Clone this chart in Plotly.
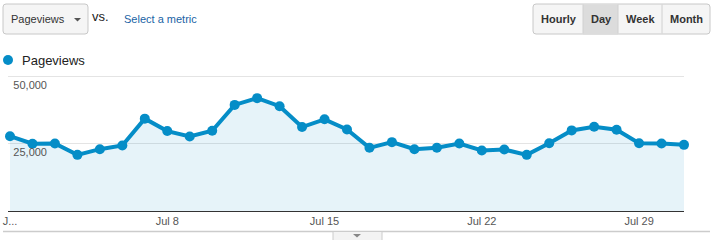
import plotly.graph_objects as go

# ---- data ----
dates = ["2013-07-%02d" % d for d in range(1, 32)]
pageviews = [27700, 24900, 25000, 20800, 22900, 24250, 34200, 29600, 27600, 29700,
             39300, 41800, 38800, 31100, 33950, 30200, 23400, 25500, 22900, 23400,
             25000, 22400, 22750, 20800, 25100, 29850, 31200, 30100, 25100, 25000, 24500]
tick_dates = ["2013-07-01", "2013-07-08", "2013-07-15", "2013-07-22", "2013-07-29"]
tick_text = ["J...", "Jul 8", "Jul 15", "Jul 22", "Jul 29"]
y_ticks = [25000, 50000]
y_tick_text = ["25,000", "50,000"]
buttons = ["Hourly", "Day", "Week", "Month"]
button_centers = [558.5, 601, 640, 686]

W, H = 718, 240
FONT = "Liberation Sans, Arial, sans-serif"
BLUE = "#058dc7"

# plot geometry (pixels): first/last day at x=10/684, 0 at y=211, 50,000 at y=76
X0, X1 = 10, 684
Y0, Y50 = 211, 76
PAD_L, PAD_T = 2, 3           # small padding so edge ticks/gridlines are kept
day_px = (X1 - X0) / 30.0
pad_hours = PAD_L / day_px * 24
pad_h = int(pad_hours)
pad_m = int(round((pad_hours - pad_h) * 60))
x_start = "2013-06-30 %02d:%02d" % (23 - pad_h, 60 - pad_m if pad_m else 0)
y_top = 50000 * (Y0 - (Y50 - PAD_T)) / (Y0 - Y50)


def px(x):
    return x / W


def py(y):
    return 1 - y / H


def path(points, close=True):
    s = "M " + " L ".join("%.5f,%.5f" % (px(a), py(b)) for a, b in points)
    return s + (" Z" if close else "")


def rrect(x0, y0, x1, y1, r):
    s = "M %.5f,%.5f" % (px(x0 + r), py(y0))
    s += " L %.5f,%.5f" % (px(x1 - r), py(y0))
    s += " Q %.5f,%.5f %.5f,%.5f" % (px(x1), py(y0), px(x1), py(y0 + r))
    s += " L %.5f,%.5f" % (px(x1), py(y1 - r))
    s += " Q %.5f,%.5f %.5f,%.5f" % (px(x1), py(y1), px(x1 - r), py(y1))
    s += " L %.5f,%.5f" % (px(x0 + r), py(y1))
    s += " Q %.5f,%.5f %.5f,%.5f" % (px(x0), py(y1), px(x0), py(y1 - r))
    s += " L %.5f,%.5f" % (px(x0), py(y0 + r))
    s += " Q %.5f,%.5f %.5f,%.5f Z" % (px(x0), py(y0), px(x0 + r), py(y0))
    return s


fig = go.Figure()
fig.add_trace(go.Scatter(
    x=dates, y=pageviews, mode="lines+markers",
    line=dict(color=BLUE, width=4),
    marker=dict(color=BLUE, size=10),
    fill="tozeroy", fillcolor="rgba(5,141,199,0.1)",
    cliponaxis=False, showlegend=False, hoverinfo="x+y",
))

shapes = []
# dropdown
shapes.append(dict(type="path", xref="paper", yref="paper", path=rrect(3, 4, 88, 34, 3),
                   fillcolor="#f5f5f5", line=dict(color="#c8c8c8", width=1), layer="below"))
shapes.append(dict(type="path", xref="paper", yref="paper",
                   path=path([(74, 18), (81, 18), (77.5, 21.5)]),
                   fillcolor="#555", line=dict(width=0)))
# button group
shapes.append(dict(type="path", xref="paper", yref="paper", path=rrect(533, 4, 710, 34, 3),
                   fillcolor="#f5f5f5", line=dict(color="#c8c8c8", width=1), layer="below"))
shapes.append(dict(type="rect", xref="paper", yref="paper",
                   x0=px(583), x1=px(618), y0=py(34.5), y1=py(4.5),
                   fillcolor="#dcdcdc", line=dict(width=0)))
for xd in [583, 618, 662]:
    shapes.append(dict(type="line", xref="paper", yref="paper",
                       x0=px(xd), x1=px(xd), y0=py(4.5), y1=py(33.5),
                       line=dict(color="#d0d0d0", width=1)))
# legend dot
shapes.append(dict(type="circle", xref="paper", yref="paper",
                   x0=px(3), x1=px(13), y0=py(65), y1=py(55),
                   fillcolor=BLUE, line=dict(width=0)))
# bottom rule and tab
shapes.append(dict(type="line", xref="paper", yref="paper",
                   x0=px(3), x1=px(710), y0=py(231.5), y1=py(231.5),
                   line=dict(color="#cccccc", width=1.5)))
shapes.append(dict(type="rect", xref="paper", yref="paper",
                   x0=px(333), x1=px(382), y0=py(242), y1=py(231.5),
                   fillcolor="#f3f3f3", line=dict(color="#cccccc", width=1)))
shapes.append(dict(type="path", xref="paper", yref="paper",
                   path=path([(353, 234), (361, 234), (357, 237.5)]),
                   fillcolor="#888", line=dict(width=0)))

annotations = []


def txt(t, x, y, size=11, color="#333", anchor="left", bold=False):
    annotations.append(dict(text=("<b>%s</b>" % t) if bold else t,
                            x=px(x), y=py(y), xref="paper", yref="paper",
                            xanchor=anchor, yanchor="middle", showarrow=False,
                            font=dict(family=FONT, size=size, color=color),
                            borderpad=0))


txt("Pageviews", 10, 19, 11, "#333")
txt("vs.", 91, 17, 13, "#222")
txt("Select a metric", 122.5, 19, 11, "#1a63a5")
for b, c in zip(buttons, button_centers):
    txt(b, c, 19, 11, "#333", anchor="center", bold=True)
txt("Pageviews", 21, 60, 13, "#222")

fig.update_layout(
    width=W, height=H,
    margin=dict(l=0, r=0, t=0, b=0),
    paper_bgcolor="white", plot_bgcolor="white",
    showlegend=False,
    shapes=shapes, annotations=annotations,
    font=dict(family=FONT),
    xaxis=dict(
        domain=[px(X0 - PAD_L), px(X1)],
        range=[x_start, dates[-1]],
        tickmode="array", tickvals=tick_dates, ticktext=tick_text,
        showgrid=False, zeroline=False,
        showline=True, linecolor="#333", linewidth=1,
        ticks="", tickfont=dict(family=FONT, size=11, color="#555"),
        automargin=False, fixedrange=True,
    ),
    yaxis=dict(
        domain=[1 - Y0 / H, 1 - (Y50 - PAD_T) / H],
        range=[0, y_top],
        tickmode="array", tickvals=y_ticks, ticktext=y_tick_text,
        showgrid=True, gridcolor="#e4e4e4", gridwidth=1,
        zeroline=False, showline=False,
        ticks="", ticklabelposition="outside",
        ticklabelshift=9, ticklabelstandoff=-40,
        tickfont=dict(family=FONT, size=11, color="#555"),
        automargin=False, fixedrange=True,
    ),
)

fig.write_html("out.html")
